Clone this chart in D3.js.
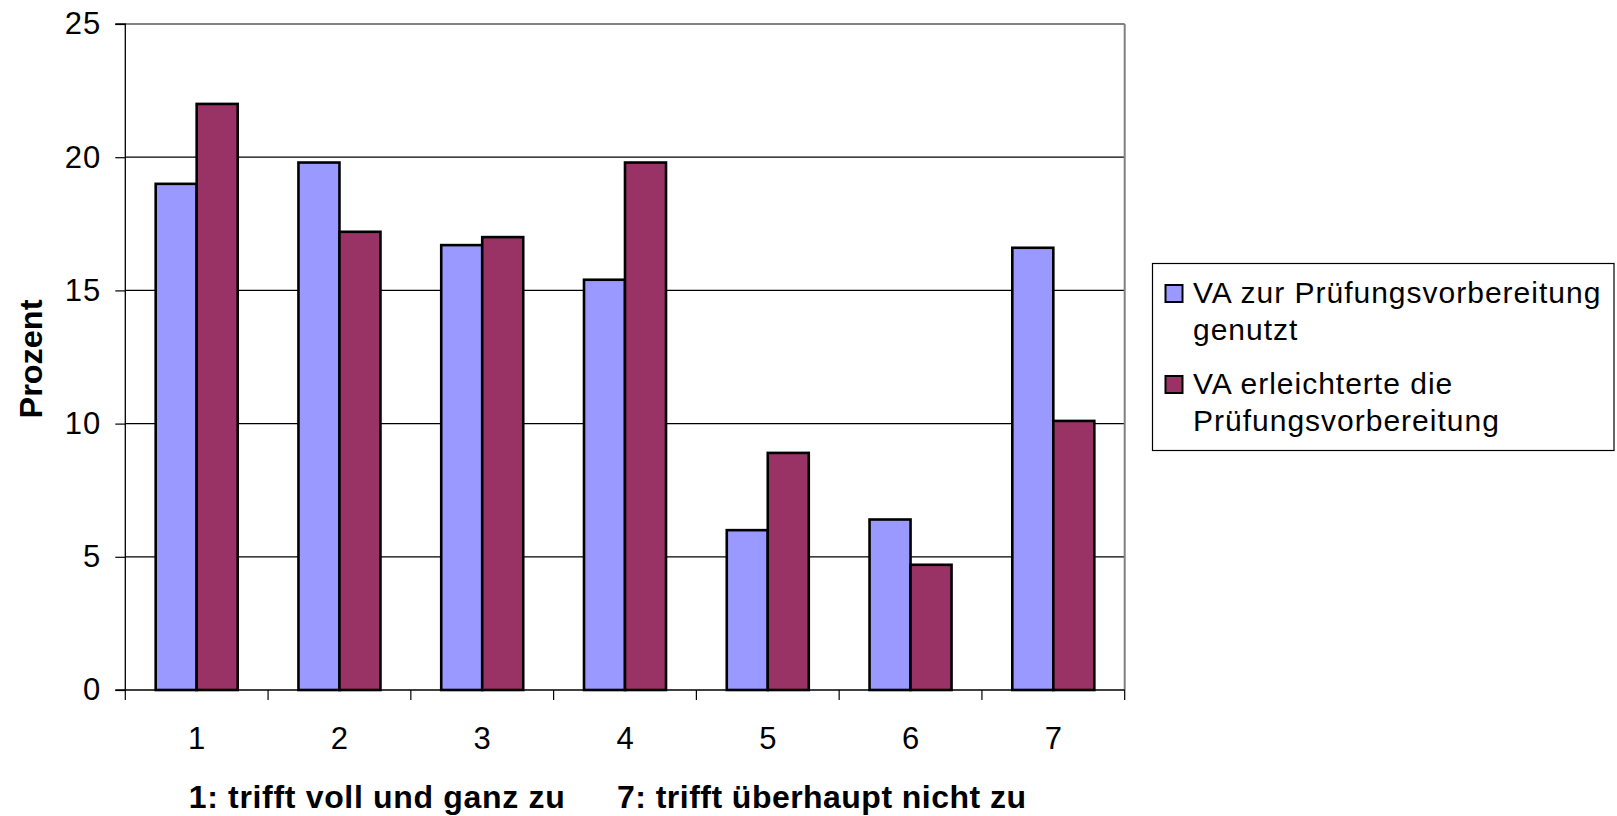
<!DOCTYPE html>
<html>
<head>
<meta charset="utf-8">
<script src="https://cdn.jsdelivr.net/npm/d3@7"></script>
<style>
  html, body { margin: 0; padding: 0; background: #fff; }
  svg { display: block; font-family: "Liberation Sans", Arial, sans-serif; }
</style>
</head>
<body>
<svg id="chart" width="1617" height="816"></svg>
<script>
const categories = ["1", "2", "3", "4", "5", "6", "7"];
const seriesNames = ["VA zur Prüfungsvorbereitung genutzt", "VA erleichterte die Prüfungsvorbereitung"];
const seriesGenutzt = [19.0, 19.8, 16.7, 15.4, 6.0, 6.4, 16.6];
const seriesErleichtert = [22.0, 17.2, 17.0, 19.8, 8.9, 4.7, 10.1];
const yTicks = [0, 5, 10, 15, 20, 25];
const legendLines = [["VA zur Prüfungsvorbereitung", "genutzt"], ["VA erleichterte die", "Prüfungsvorbereitung"]];
const colors = ["#9999FF", "#993366"];
const yTitle = "Prozent";
const xNotes = ["1: trifft voll und ganz zu", "7: trifft überhaupt nicht zu"];

const svg = d3.select("#chart");
const L = 125.3, R = 1124.7, T = 24, B = 690;

const x = d3.scaleBand().domain(categories).range([L, R]).padding(0);
const groupW = 82;
const xs = d3.scaleBand().domain([0, 1])
  .range([(x.bandwidth() - groupW) / 2, (x.bandwidth() + groupW) / 2]).padding(0);
const y = d3.scaleLinear().domain([0, 25]).range([B, T]);

// gridlines
svg.append("g").selectAll("line").data(yTicks.filter(t => t > 0 && t < 25)).join("line")
  .attr("x1", L).attr("x2", R)
  .attr("y1", d => y(d)).attr("y2", d => y(d))
  .attr("stroke", "#000").attr("stroke-width", 1.2);

// top and right border (gray)
svg.append("line").attr("x1", L).attr("x2", R).attr("y1", y(25)).attr("y2", y(25))
  .attr("stroke", "#808080").attr("stroke-width", 2);
svg.append("line").attr("x1", R).attr("x2", R).attr("y1", T).attr("y2", B)
  .attr("stroke", "#808080").attr("stroke-width", 2);

// bars
const data = categories.map((c, i) => ({ c, v: [seriesGenutzt[i], seriesErleichtert[i]] }));
const g = svg.append("g").selectAll("g").data(data).join("g")
  .attr("transform", d => `translate(${x(d.c)},0)`);
g.selectAll("rect").data(d => d.v.map((v, k) => ({ v, k }))).join("rect")
  .attr("x", d => xs(d.k)).attr("width", xs.bandwidth())
  .attr("y", d => y(d.v)).attr("height", d => y(0) - y(d.v))
  .attr("fill", d => colors[d.k]).attr("stroke", "#000").attr("stroke-width", 2.6);

// y axis
const yAxis = d3.axisLeft(y).tickValues(yTicks).tickSize(10).tickPadding(14).tickFormat(d3.format("d"));
const ya = svg.append("g").attr("transform", `translate(${L},0)`).call(yAxis);
ya.select(".domain").attr("stroke", "#000").attr("stroke-width", 1.3).attr("d", `M-10,${T}H0V${B}H-10`);
ya.selectAll(".tick line").attr("stroke", "#000").attr("stroke-width", 1.2);
ya.selectAll(".tick text").attr("font-size", 31).attr("fill", "#000")
  .attr("font-family", "Liberation Sans, Arial, sans-serif").style("letter-spacing", "1px");

// x axis: line + ticks at category boundaries
svg.append("line").attr("x1", L).attr("x2", R).attr("y1", B).attr("y2", B)
  .attr("stroke", "#000").attr("stroke-width", 1.3);
const bounds = categories.map(c => x(c)).concat([x(categories[categories.length - 1]) + x.bandwidth()]);
svg.append("g").selectAll("line").data(bounds).join("line")
  .attr("x1", d => d).attr("x2", d => d).attr("y1", B).attr("y2", B + 10)
  .attr("stroke", "#000").attr("stroke-width", 1.2);
svg.append("g").selectAll("text").data(categories).join("text")
  .attr("x", d => x(d) + x.bandwidth() / 2).attr("y", 749)
  .attr("text-anchor", "middle").attr("font-size", 31).text(d => d);

// y title
svg.append("text").attr("transform", "translate(42,359) rotate(-90)")
  .attr("text-anchor", "middle").attr("font-size", 32).attr("font-weight", "bold")
  .attr("textLength", 119).attr("lengthAdjust", "spacingAndGlyphs").text(yTitle);

// x notes
svg.append("text").attr("x", 188.7).attr("y", 808).attr("font-size", 32).attr("font-weight", "bold")
  .attr("textLength", 376).attr("lengthAdjust", "spacing").text(xNotes[0]);
svg.append("text").attr("x", 617).attr("y", 808).attr("font-size", 32).attr("font-weight", "bold")
  .attr("textLength", 409).attr("lengthAdjust", "spacing").text(xNotes[1]);

// legend
const lg = svg.append("g");
lg.append("rect").attr("x", 1152.5).attr("y", 263.5).attr("width", 461.5).attr("height", 187)
  .attr("fill", "#fff").attr("stroke", "#000").attr("stroke-width", 1.2);
const baselines = [[303, 340], [394, 431]];
legendLines.forEach((lines, k) => {
  lg.append("rect").attr("x", 1165.5).attr("y", baselines[k][0] - 18).attr("width", 17).attr("height", 17)
    .attr("fill", colors[k]).attr("stroke", "#000").attr("stroke-width", 2);
  lines.forEach((t, j) => {
    lg.append("text").attr("x", 1193).attr("y", baselines[k][j]).attr("font-size", 30)
      .style("letter-spacing", "1px").text(t);
  });
});
</script>
</body>
</html>
